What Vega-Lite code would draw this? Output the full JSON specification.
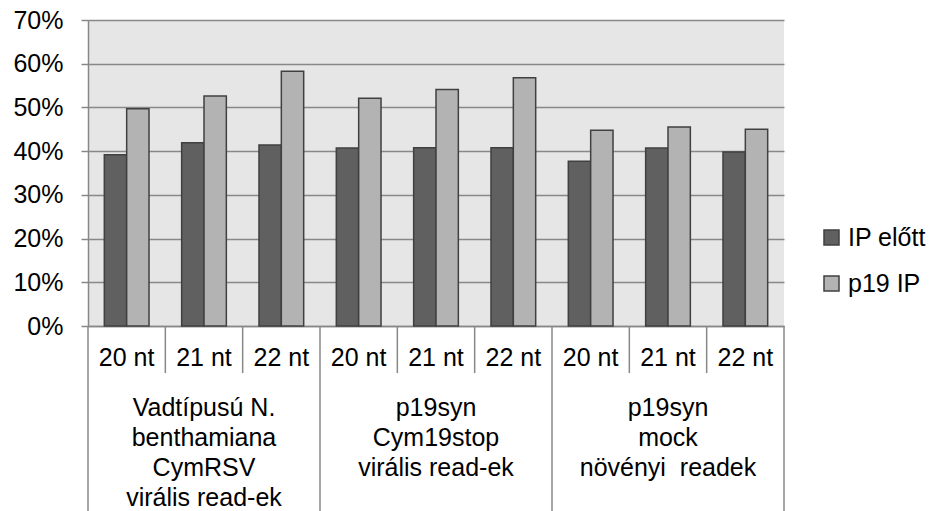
{
  "$schema": "https://vega.github.io/schema/vega-lite/v6.json",
  "padding": {"left": 12, "top": 8, "right": 0, "bottom": 0},
  "spacing": 0,
  "bounds": "flush",
  "config": {"font": "Liberation Sans", "view": {"stroke": null}, "concat": {"spacing": 0}},
  "datasets": {
    "bars": [
      {"cat": "A20", "series": "IP előtt", "value": 0.392},
      {"cat": "A20", "series": "p19 IP", "value": 0.497},
      {"cat": "A21", "series": "IP előtt", "value": 0.419},
      {"cat": "A21", "series": "p19 IP", "value": 0.526},
      {"cat": "A22", "series": "IP előtt", "value": 0.414},
      {"cat": "A22", "series": "p19 IP", "value": 0.583},
      {"cat": "B20", "series": "IP előtt", "value": 0.407},
      {"cat": "B20", "series": "p19 IP", "value": 0.521},
      {"cat": "B21", "series": "IP előtt", "value": 0.408},
      {"cat": "B21", "series": "p19 IP", "value": 0.541},
      {"cat": "B22", "series": "IP előtt", "value": 0.408},
      {"cat": "B22", "series": "p19 IP", "value": 0.568},
      {"cat": "C20", "series": "IP előtt", "value": 0.377},
      {"cat": "C20", "series": "p19 IP", "value": 0.448},
      {"cat": "C21", "series": "IP előtt", "value": 0.407},
      {"cat": "C21", "series": "p19 IP", "value": 0.455},
      {"cat": "C22", "series": "IP előtt", "value": 0.398},
      {"cat": "C22", "series": "p19 IP", "value": 0.450}
    ],
    "cats": [
      {"cat": "A20", "nt": "20 nt"},
      {"cat": "A21", "nt": "21 nt"},
      {"cat": "A22", "nt": "22 nt"},
      {"cat": "B20", "nt": "20 nt"},
      {"cat": "B21", "nt": "21 nt"},
      {"cat": "B22", "nt": "22 nt"},
      {"cat": "C20", "nt": "20 nt"},
      {"cat": "C21", "nt": "21 nt"},
      {"cat": "C22", "nt": "22 nt"}
    ],
    "groups": [
      {"first": "A20", "mid": "A21", "last": "A22", "label": "Vadtípusú N.\nbenthamiana\nCymRSV\nvirális read-ek"},
      {"first": "B20", "mid": "B21", "last": "B22", "label": "p19syn\nCym19stop\nvirális read-ek"},
      {"first": "C20", "mid": "C21", "last": "C22", "label": "p19syn\nmock\nnövényi\u00a0 readek"}
    ]
  },
  "vconcat": [
    {
      "width": 696,
      "height": 306,
      "view": {"fill": "#e6e6e6", "stroke": null},
      "data": {"name": "bars"},
      "mark": {"type": "bar", "stroke": "#404040", "strokeWidth": 1.5},
      "encoding": {
        "x": {
          "field": "cat", "type": "nominal", "sort": null,
          "scale": {"domain": ["A20","A21","A22","B20","B21","B22","C20","C21","C22"], "paddingInner": 0, "paddingOuter": 0},
          "axis": {"labels": false, "ticks": false, "title": null, "grid": false, "domainColor": "#888888", "domainWidth": 1.5, "minExtent": 0, "maxExtent": 0, "labelPadding": 0, "offset": 0}
        },
        "xOffset": {
          "field": "series", "type": "nominal",
          "scale": {"domain": ["IP előtt", "p19 IP"], "paddingInner": 0, "paddingOuter": 0.73}
        },
        "y": {
          "field": "value", "type": "quantitative",
          "scale": {"domain": [0, 0.7], "nice": false},
          "axis": {
            "values": [0, 0.1, 0.2, 0.3, 0.4, 0.5, 0.6, 0.7],
            "format": ".0%", "title": null,
            "tickSize": 7, "tickColor": "#888888", "tickWidth": 1.5,
            "labelPadding": 18, "labelFontSize": 25, "labelColor": "#000000",
            "domainColor": "#888888", "domainWidth": 1.5,
            "gridColor": "#888888", "gridWidth": 1.5, "gridOpacity": 1
          }
        },
        "color": {
          "field": "series", "type": "nominal",
          "scale": {"domain": ["IP előtt", "p19 IP"], "range": ["#606060", "#b3b3b3"]},
          "legend": {
            "orient": "none", "legendX": 731, "legendY": 205,
            "title": null, "symbolType": "square", "symbolSize": 225,
            "symbolStrokeColor": "#404040", "symbolStrokeWidth": 1.5, "symbolOpacity": 1,
            "labelFontSize": 25, "labelOffset": 4, "rowPadding": 20, "padding": 0,
            "labelColor": "#000000"
          }
        }
      }
    },
    {
      "width": 696,
      "height": 47,
      "data": {"name": "cats"},
      "layer": [
        {
          "mark": {"type": "rule", "stroke": "#888888", "strokeWidth": 1.5},
          "encoding": {
            "x": {"field": "cat", "type": "nominal", "bandPosition": 0,
              "scale": {"domain": ["A20","A21","A22","B20","B21","B22","C20","C21","C22"], "paddingInner": 0, "paddingOuter": 0},
              "axis": null}
          }
        },
        {
          "transform": [{"filter": "datum.cat === 'C22'"}],
          "mark": {"type": "rule", "stroke": "#888888", "strokeWidth": 1.5},
          "encoding": {
            "x": {"field": "cat", "type": "nominal", "bandPosition": 1, "axis": null}
          }
        },
        {
          "mark": {"type": "text", "fontSize": 25, "baseline": "middle", "dy": 8, "color": "#000000"},
          "encoding": {
            "x": {"field": "cat", "type": "nominal", "axis": null},
            "text": {"field": "nt", "type": "nominal"}
          }
        }
      ]
    },
    {
      "width": 696,
      "height": 138,
      "data": {"name": "groups"},
      "layer": [
        {
          "mark": {"type": "rule", "stroke": "#888888", "strokeWidth": 1.5},
          "encoding": {
            "x": {"field": "first", "type": "nominal", "bandPosition": 0,
              "scale": {"domain": ["A20","A21","A22","B20","B21","B22","C20","C21","C22"], "paddingInner": 0, "paddingOuter": 0},
              "axis": null}
          }
        },
        {
          "transform": [{"filter": "datum.last === 'C22'"}],
          "mark": {"type": "rule", "stroke": "#888888", "strokeWidth": 1.5},
          "encoding": {
            "x": {"field": "last", "type": "nominal", "bandPosition": 1, "axis": null}
          }
        },
        {
          "mark": {"type": "text", "fontSize": 25, "baseline": "top", "dy": -46, "lineHeight": 30, "lineBreak": "\n", "color": "#000000"},
          "encoding": {
            "x": {"field": "mid", "type": "nominal", "axis": null},
            "text": {"field": "label", "type": "nominal"}
          }
        }
      ]
    }
  ]
}
